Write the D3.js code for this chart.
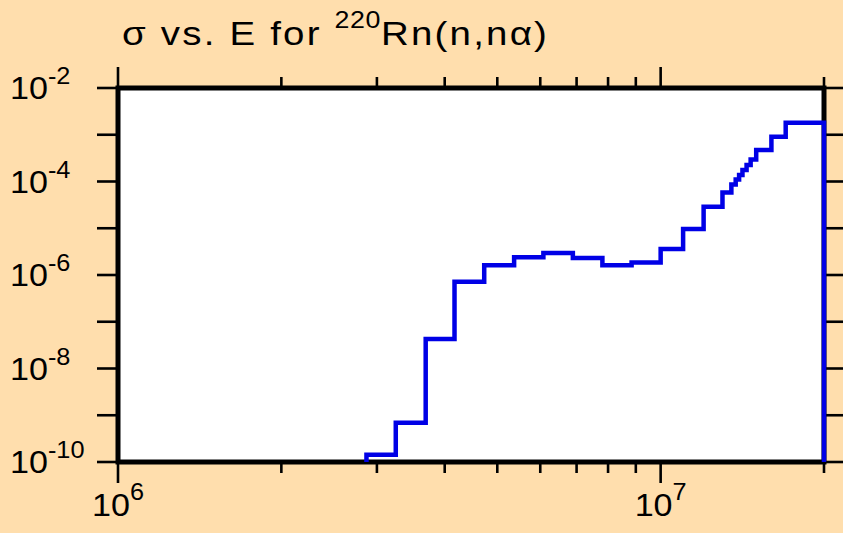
<!DOCTYPE html>
<html>
<head>
<meta charset="utf-8">
<script src="https://cdn.jsdelivr.net/npm/d3@7"></script>
<style>
  html, body { margin: 0; padding: 0; background: #ffdead; }
  svg { display: block; }
  text { font-family: "Liberation Sans", Arial, sans-serif; fill: #000; }
</style>
</head>
<body>
<svg id="chart" width="843" height="533"></svg>
<script>
// Energy bin edges (eV) and cross sections (b) for each bin
const binEdges = [2.87e6, 3.25e6, 3.69e6, 4.17e6, 4.73e6, 5.37e6, 6.08e6, 6.89e6, 7.81e6, 8.84e6,
  1.0e7, 1.10e7, 1.20e7, 1.30e7, 1.35e7, 1.375e7, 1.395e7, 1.415e7, 1.44e7, 1.465e7, 1.50e7,
  1.60e7, 1.70e7, 2.0e7];
const sigma = [1.43e-10, 6.9e-10, 4.3e-8, 7.2e-7, 1.61e-6, 2.39e-6, 2.96e-6, 2.31e-6, 1.61e-6,
  1.85e-6, 3.6e-6, 9.6e-6, 2.89e-5, 5.8e-5, 8.6e-5, 1.11e-4, 1.38e-4, 1.76e-4, 2.25e-4,
  2.96e-4, 4.7e-4, 9.1e-4, 1.81e-3];
const xDomain = [1e6, 2e7];
const yDomain = [1e-10, 1e-2];
const xMajorTicks = [1e6, 1e7];
const xMinorTicks = [2e6, 3e6, 4e6, 5e6, 6e6, 7e6, 8e6, 9e6, 2e7];
const yTicks = [1e-10, 1e-9, 1e-8, 1e-7, 1e-6, 1e-5, 1e-4, 1e-3, 1e-2];
const yLabelExps = [-10, -8, -6, -4, -2];
const xLabelExps = [6, 7];
const titleParts = ["σ vs. E for ", "220", "Rn(n,nα)"];

const svg = d3.select("#chart");
const L = 118, R = 824, T = 88, B = 462;
const x = d3.scaleLog().domain(xDomain).range([L, R]);
const y = d3.scaleLog().domain(yDomain).range([B, T]);

// plot background
svg.append("rect").attr("x", L).attr("y", T).attr("width", R - L).attr("height", B - T).attr("fill", "#fff");

// ticks
const tickG = svg.append("g").attr("stroke", "#000").attr("stroke-width", 2.6);
yTicks.forEach(v => {
  tickG.append("line").attr("x1", L - 21).attr("x2", L).attr("y1", y(v)).attr("y2", y(v));
  tickG.append("line").attr("x1", R).attr("x2", R + 21).attr("y1", y(v)).attr("y2", y(v));
});
xMajorTicks.forEach(v => {
  tickG.append("line").attr("x1", x(v)).attr("x2", x(v)).attr("y1", B).attr("y2", B + 21);
  tickG.append("line").attr("x1", x(v)).attr("x2", x(v)).attr("y1", T).attr("y2", T - 21);
});
xMinorTicks.forEach(v => {
  tickG.append("line").attr("x1", x(v)).attr("x2", x(v)).attr("y1", B).attr("y2", B + 11);
  tickG.append("line").attr("x1", x(v)).attr("x2", x(v)).attr("y1", T).attr("y2", T - 11);
});

// step data
const pts = [];
pts.push([binEdges[0], yDomain[0]]);
sigma.forEach((s, i) => {
  pts.push([binEdges[i], s]);
  pts.push([binEdges[i + 1], s]);
});
pts.push([binEdges[binEdges.length - 1], yDomain[0]]);

// frame
svg.append("rect").attr("x", L).attr("y", T).attr("width", R - L).attr("height", B - T)
  .attr("fill", "none").attr("stroke", "#000").attr("stroke-width", 5);

svg.append("defs").append("clipPath").attr("id", "clip")
  .append("rect").attr("x", L - 3).attr("y", T).attr("width", R - L + 6).attr("height", B - T + 3);

const line = d3.line().x(d => x(d[0])).y(d => y(d[1]));
svg.append("path").datum(pts).attr("d", line).attr("fill", "none")
  .attr("stroke", "#0000e6").attr("stroke-width", 4.5).attr("stroke-linejoin", "miter")
  .attr("clip-path", "url(#clip)");

const SX = 1.1;
// y labels (left-aligned)
yLabelExps.forEach(e => {
  const t = svg.append("text")
    .attr("transform", `translate(10,${y(Math.pow(10, e)) + 11}) scale(${SX},1)`)
    .attr("text-anchor", "start").attr("font-size", 31);
  t.append("tspan").text("10");
  t.append("tspan").attr("font-size", 23).attr("dy", -15).text(String(e));
});
// x labels
xLabelExps.forEach(e => {
  const t = svg.append("text")
    .attr("transform", `translate(${x(Math.pow(10, e))},516) scale(${SX},1)`)
    .attr("text-anchor", "middle").attr("font-size", 31);
  t.append("tspan").text("10");
  t.append("tspan").attr("font-size", 23).attr("dy", -16).text(String(e));
});

// title
const title = svg.append("text")
  .attr("transform", "translate(122,45) scale(1.165,1)")
  .attr("font-size", 33).attr("letter-spacing", 1.9);
title.append("tspan").text(titleParts[0]);
title.append("tspan").attr("font-size", 23).attr("dy", -17).attr("letter-spacing", 0.5).text(titleParts[1]);
title.append("tspan").attr("dy", 17).text(titleParts[2]);
</script>
</body>
</html>
